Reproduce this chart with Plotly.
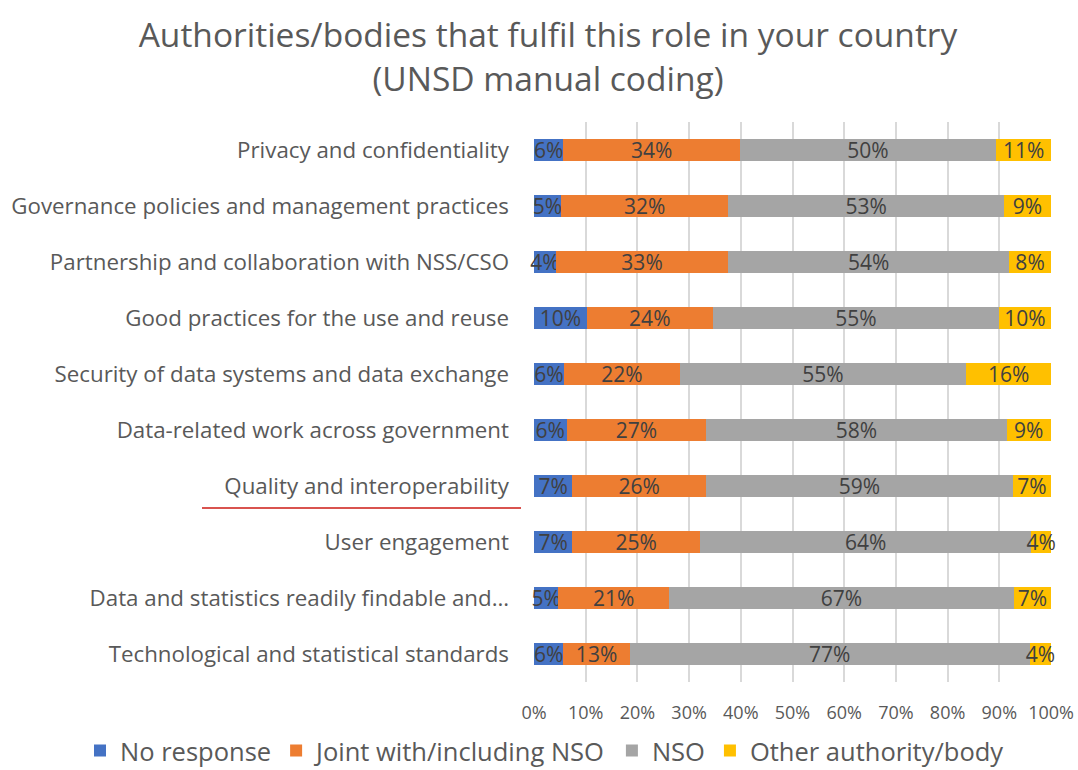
import plotly.graph_objects as go

categories = [
    "Privacy and confidentiality",
    "Governance policies and management practices",
    "Partnership and collaboration with NSS/CSO",
    "Good practices for the use and reuse",
    "Security of data systems and data exchange",
    "Data-related work across government",
    "Quality and interoperability",
    "User engagement",
    "Data and statistics readily findable and…",
    "Technological and statistical standards",
]
no_response = [5.7, 5.2, 4.2, 10.2, 5.8, 6.3, 7.4, 7.4, 4.7, 5.7]
joint_nso = [34.1, 32.4, 33.4, 24.4, 22.4, 27.0, 25.9, 24.7, 21.4, 12.8]
nso = [49.6, 53.3, 54.3, 55.3, 55.4, 58.1, 59.3, 64.1, 66.7, 77.4]
other_body = [10.6, 9.1, 8.1, 10.1, 16.4, 8.6, 7.4, 3.8, 7.2, 4.1]

series_names = ["No response", "Joint with/including NSO", "NSO", "Other authority/body"]
series_values = [no_response, joint_nso, nso, other_body]
colors = ["#4472C4", "#ED7D31", "#A5A5A5", "#FFC000"]
tick_vals = [i / 10 for i in range(11)]
tick_text = [f"{i * 10}%" for i in range(11)]

FONT = "Open Sans"
PL, PR, PT, PB = 534, 1051, 122, 682  # plot area in pixels
PW, PH = PR - PL, PB - PT

fig = go.Figure()
for name, vals, col in zip(series_names, series_values, colors):
    fr = [v / 100 for v in vals]
    fig.add_trace(go.Bar(
        y=categories, x=fr, name=name, orientation="h",
        marker=dict(color=col, line=dict(width=0)),
        text=[f"{round(v):.0f}%" for v in vals],
        textposition="inside", insidetextanchor="middle", textangle=0,
        textfont=dict(family=FONT, size=21, color="#404040"),
        constraintext="none", cliponaxis=False,
    ))

fig.update_layout(
    barmode="stack", bargap=0.61,
    width=1078, height=770,
    paper_bgcolor="white", plot_bgcolor="white",
    margin=dict(l=PL, r=1078 - PR, t=PT, b=770 - PB, autoexpand=False),
    title=dict(
        text="Authorities/bodies that fulfil this role in your country<br>(UNSD manual coding)",
        x=548 / 1078, xanchor="center", yref="container", y=1 - 47 / 770, yanchor="middle",
        font=dict(family=FONT, size=33.5, color="#595959"),
    ),
    uniformtext=dict(minsize=8, mode=False),
    legend=dict(
        orientation="h", xref="paper", yref="paper",
        x=(80 - PL) / PW, xanchor="left", y=(PB - 751) / PH, yanchor="middle",
        font=dict(family=FONT, size=25.5, color="#595959"),
        traceorder="normal", itemwidth=30,
    ),
    xaxis=dict(
        range=[0, 1], tickvals=tick_vals, ticktext=tick_text,
        showgrid=True, gridcolor="#D9D9D9", gridwidth=1.5,
        zeroline=False, showline=False, ticks="",
        ticklabelstandoff=18,
        tickfont=dict(family=FONT, size=18, color="#595959"),
    ),
    yaxis=dict(
        autorange="reversed", showgrid=False, showline=False, ticks="",
        ticklabelstandoff=24,
        tickfont=dict(family=FONT, size=22.3, color="#595959"),
    ),
)

fig.add_shape(type="line", xref="paper", yref="paper",
              x0=(202 - PL) / PW, x1=(521 - PL) / PW,
              y0=(PB - 508) / PH, y1=(PB - 508) / PH,
              line=dict(color="#D9534F", width=2))

fig.write_html("out.html", config={"displayModeBar": False},
               post_script="document.body.style.margin='0';")
